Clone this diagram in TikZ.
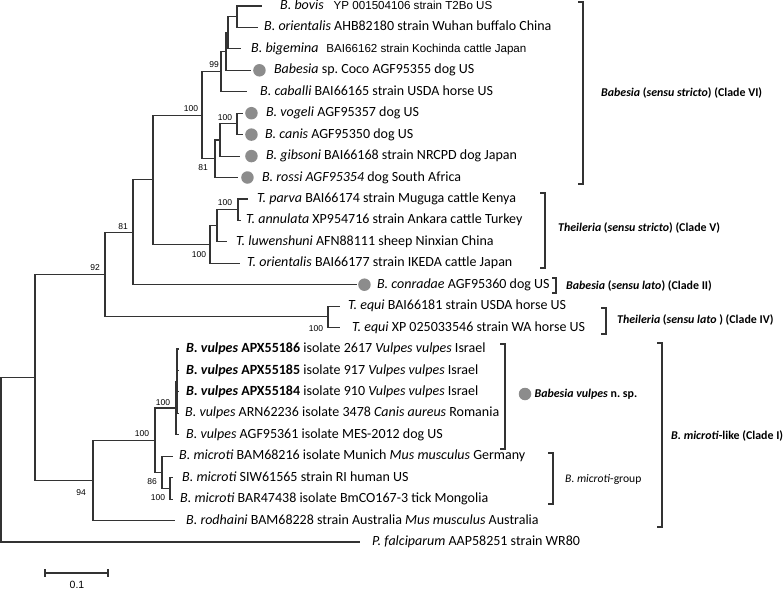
\documentclass[tikz,border=0pt]{standalone}
\usepackage{fontspec}
\setmainfont{Carlito}
\newfontfamily\arialfont{Liberation Sans}
\usepackage{xcolor}
\usepackage{tikz}
\usetikzlibrary{positioning}
\definecolor{spotgray}{RGB}{140,140,140}
\newcommand{\arsmall}[1]{{\arialfont\fontsize{11.6}{13}\selectfont #1}}
\frenchspacing

\begin{document}
\begin{tikzpicture}[
    x=1pt, y=-1pt,
    br/.style={draw=black!80, line width=1.1pt},
    brk/.style={draw=black!80, line width=1.1pt},
    leaf/.style={inner sep=0pt, text height=10pt, text depth=3pt,
                 font=\fontsize{14}{16}\selectfont},
    spot/.style={circle, fill=spotgray, inner sep=0pt, minimum size=12.5pt},
    bs/.style={inner sep=0pt, font=\arialfont\fontsize{8.5}{10}\selectfont},
    clade/.style={anchor=west, inner sep=0pt, font=\bfseries\fontsize{11.9}{14}\selectfont}
]
\useasboundingbox (0,0) rectangle (784,591);

\coordinate (root) at (1,459.8);
\coordinate (ingrp) at (35,377.5);
\coordinate (nPir) at (105,274.6);
\coordinate (nBabThe) at (133,232.3);
\coordinate (nBT) at (153,179.9);
\coordinate (nBss) at (202,115.2);
\coordinate (nBov4) at (221,71.7);
\coordinate (nBov3) at (226,51.5);
\coordinate (nBov2) at (228,32.8);
\coordinate (nBov1) at (237,16.7);
\coordinate (nCan3) at (215,158.8);
\coordinate (nCan2) at (220,140);
\coordinate (nCan1) at (237,123.9);
\coordinate (nThe3) at (210,244.5);
\coordinate (nThe2) at (217,225.8);
\coordinate (nThe1) at (238,209.7);
\coordinate (nEqui) at (328,316.9);
\coordinate (nMic) at (93,480.4);
\coordinate (nVM) at (155,440.2);
\coordinate (nVul) at (176,408);
\coordinate (nVul1) at (177,381.2);
\coordinate (nMicr) at (162,472.3);
\coordinate (nMicr1) at (170,488.4);

\coordinate (tBovis) at (262,6);
\coordinate (tOrient) at (258,27.4);
\coordinate (tBigem) at (241,48.9);
\coordinate (tCoco) at (251,70.3);
\coordinate (tCaballi) at (247,91.8);
\coordinate (tVogeli) at (243,113.2);
\coordinate (tCanis) at (243,134.6);
\coordinate (tGibsoni) at (240,156.1);
\coordinate (tRossi) at (238,177.5);
\coordinate (tParva) at (248,199);
\coordinate (tAnnul) at (241,220.4);
\coordinate (tLuwen) at (227,241.8);
\coordinate (tTori) at (240,263.3);
\coordinate (tConrad) at (357,284.7);
\coordinate (tEquiA) at (340,306.2);
\coordinate (tEquiB) at (340,327.6);
\coordinate (tVulA) at (179,349);
\coordinate (tVulB) at (179,370.5);
\coordinate (tVulC) at (179,391.9);
\coordinate (tVulD) at (179,413.4);
\coordinate (tVulE) at (179,434.8);
\coordinate (tMicA) at (173,456.2);
\coordinate (tMicB) at (173,477.7);
\coordinate (tMicC) at (173,499.1);
\coordinate (tRodh) at (175,520.6);
\coordinate (tFalc) at (360,542);

\node[leaf, right=18pt of tBovis] (bovis) {\textit{B. bovis}\hspace{10pt}\arsmall{YP 001504106 strain T2Bo US}};
\node[leaf, right=6pt of tOrient] (orient) {\textit{B. orientalis} AHB82180 strain Wuhan buffalo China};
\node[leaf, right=10pt of tBigem] (bigem) {\textit{B. bigemina}\hspace{8pt}\arsmall{BAI66162 strain Kochinda cattle Japan}};
\node[spot, right=2pt of tCoco] (dCoco) {};
\node[leaf, right=8pt of dCoco] (coco) {\textit{Babesia} sp. Coco AGF95355 dog US};
\node[leaf, right=13pt of tCaballi] (caballi) {\textit{B. caballi} BAI66165 strain USDA horse US};
\node[spot, right=2pt of tVogeli] (dVogeli) {};
\node[leaf, right=8pt of dVogeli] (vogeli) {\textit{B. vogeli} AGF95357 dog US};
\node[spot, right=2pt of tCanis] (dCanis) {};
\node[leaf, right=7pt of dCanis] (canis) {\textit{B. canis} AGF95350 dog US};
\node[spot, right=5pt of tGibsoni] (dGibsoni) {};
\node[leaf, right=8pt of dGibsoni] (gibsoni) {\textit{B. gibsoni} BAI66168 strain NRCPD dog Japan};
\node[spot, right=3pt of tRossi] (dRossi) {};
\node[leaf, right=8pt of dRossi] (rossi) {\textit{B. rossi AGF95354} dog South Africa};
\node[leaf, right=9pt of tParva] (parva) {\textit{T. parva} BAI66174 strain Muguga cattle Kenya};
\node[leaf, right=5pt of tAnnul] (annul) {\textit{T. annulata} XP954716 strain Ankara cattle Turkey};
\node[leaf, right=9pt of tLuwen] (luwen) {\textit{T. luwenshuni} AFN88111 sheep Ninxian China};
\node[leaf, right=7pt of tTori] (tori) {\textit{T. orientalis} BAI66177 strain IKEDA cattle Japan};
\node[spot, right=1pt of tConrad] (dConrad) {};
\node[leaf, right=6pt of dConrad] (conrad) {\textit{B. conradae} AGF95360 dog US};
\node[leaf, right=8pt of tEquiA] (equiA) {\textit{T. equi} BAI66181 strain USDA horse US};
\node[leaf, right=12pt of tEquiB] (equiB) {\textit{T. equi} XP 025033546 strain WA horse US};
\node[leaf, right=7pt of tVulA] (vulA) {\textbf{\textit{B. vulpes} APX55186} isolate 2617 \textit{Vulpes vulpes} Israel};
\node[leaf, right=7pt of tVulB] (vulB) {\textbf{\textit{B. vulpes} APX55185} isolate 917 \textit{Vulpes vulpes} Israel};
\node[leaf, right=7pt of tVulC] (vulC) {\textbf{\textit{B. vulpes} APX55184} isolate 910 \textit{Vulpes vulpes} Israel};
\node[leaf, right=6pt of tVulD] (vulD) {\textit{B. vulpes} ARN62236 isolate 3478 \textit{Canis aureus} Romania};
\node[leaf, right=7pt of tVulE] (vulE) {\textit{B. vulpes} AGF95361 isolate MES-2012 dog US};
\node[leaf, right=6pt of tMicA] (micA) {\textit{B. microti} BAM68216 isolate Munich \textit{Mus musculus} Germany};
\node[leaf, right=9pt of tMicB] (micB) {\textit{B. microti} SIW61565 strain RI human US};
\node[leaf, right=7pt of tMicC] (micC) {\textit{B. microti} BAR47438 isolate BmCO167-3 tick Mongolia};
\node[leaf, right=11pt of tRodh] (rodh) {\textit{B. rodhaini} BAM68228 strain Australia \textit{Mus musculus} Australia};
\node[leaf, right=12pt of tFalc] (falc) {\textit{P. falciparum} AAP58251 strain WR80};

\draw[br] (root) |- (ingrp);
\draw[br] (root) |- (tFalc);
\draw[br] (ingrp) |- (nPir);
\draw[br] (ingrp) |- (nMic);
\draw[br] (nPir) |- (nBabThe);
\draw[br] (nPir) |- (nEqui);
\draw[br] (nBabThe) |- (nBT);
\draw[br] (nBabThe) |- (tConrad);
\draw[br] (nBT) |- (nBss);
\draw[br] (nBT) |- (nThe3);
\draw[br] (nBss) |- (nBov4);
\draw[br] (nBss) |- (nCan3);
\draw[br] (nBov4) |- (nBov3);
\draw[br] (nBov4) |- (tCaballi);
\draw[br] (nBov3) |- (nBov2);
\draw[br] (nBov3) |- (tCoco);
\draw[br] (nBov2) |- (nBov1);
\draw[br] (nBov2) |- (tBigem);
\draw[br] (nBov1) |- (tBovis);
\draw[br] (nBov1) |- (tOrient);
\draw[br] (nCan3) |- (nCan2);
\draw[br] (nCan3) |- (tRossi);
\draw[br] (nCan2) |- (nCan1);
\draw[br] (nCan2) |- (tGibsoni);
\draw[br] (nCan1) |- (tVogeli);
\draw[br] (nCan1) |- (tCanis);
\draw[br] (nThe3) |- (nThe2);
\draw[br] (nThe3) |- (tTori);
\draw[br] (nThe2) |- (nThe1);
\draw[br] (nThe2) |- (tLuwen);
\draw[br] (nThe1) |- (tParva);
\draw[br] (nThe1) |- (tAnnul);
\draw[br] (nEqui) |- (tEquiA);
\draw[br] (nEqui) |- (tEquiB);
\draw[br] (nMic) |- (nVM);
\draw[br] (nMic) |- (tRodh);
\draw[br] (nVM) |- (nVul);
\draw[br] (nVM) |- (nMicr);
\draw[br] (nVul) |- (nVul1);
\draw[br] (nVul) |- (tVulE);
\draw[br] (nVul1) |- (tVulA);
\draw[br] (nVul1) |- (tVulB);
\draw[br] (nVul1) |- (tVulC);
\draw[br] (nVul1) |- (tVulD);
\draw[br] (nMicr) |- (tMicA);
\draw[br] (nMicr) |- (nMicr1);
\draw[br] (nMicr1) |- (tMicB);
\draw[br] (nMicr1) |- (tMicC);

\node[bs] (bsBov4) at (214,65) {99};
\node[bs] (bsBss) at (191,109) {100};
\node[bs] (bsCan1) at (225,118) {100};
\node[bs] (bsCan3) at (203,168) {81};
\node[bs] (bsThe1) at (225,203) {100};
\node[bs] (bsThe3) at (199,255) {100};
\node[bs] (bsBabThe) at (123,227) {81};
\node[bs] (bsPir) at (95,268) {92};
\node[bs] (bsEqui) at (316,329) {100};
\node[bs] (bsVul) at (163,403) {100};
\node[bs] (bsVM) at (142,434) {100};
\node[bs] (bsMicr) at (152,482) {86};
\node[bs] (bsMicr1) at (158,498) {100};
\node[bs] (bsMic) at (81,493) {94};

\draw[brk] (578,2) -- (583,2) -- (583,184) -- (578,184);
\node[clade] (cladeVI) at (601,93) {\textit{Babesia} (\textit{sensu stricto}) (Clade VI)};
\draw[brk] (540,193) -- (545,193) -- (545,268) -- (540,268);
\node[clade] (cladeV) at (558,228) {\textit{Theileria} (\textit{sensu stricto}) (Clade V)};
\draw[brk] (552,278) -- (556,278) -- (556,293) -- (552,293);
\node[clade] (cladeII) at (566,286) {\textit{Babesia} (\textit{sensu lato}) (Clade II)};
\draw[brk] (601,308) -- (606,308) -- (606,334) -- (601,334);
\node[clade] (cladeIV) at (617,320) {\textit{Theileria} (\textit{sensu lato} ) (Clade IV)};
\draw[brk] (500,344) -- (505,344) -- (505,449) -- (500,449);
\node[spot] (dVulpes) at (525,394) {};
\node[clade, right=3pt of dVulpes] (vulpesSp) {\textit{Babesia vulpes} n. sp.};
\draw[brk] (548,453) -- (553,453) -- (553,504) -- (548,504);
\node[clade, font=\fontsize{11.6}{14}\selectfont] (micGroup) at (565,479) {\textit{B. microti}-group};
\draw[brk] (657,343) -- (662,343) -- (662,527) -- (657,527);
\node[clade] (cladeI) at (671,436) {\textit{B. microti}-like (Clade I)};

\coordinate (sbL) at (45,573);
\coordinate (sbR) at (108,573);
\draw[br] (sbL) -- (sbR);
\draw[br] ([yshift=4pt]sbL) -- ([yshift=-4pt]sbL);
\draw[br] ([yshift=4pt]sbR) -- ([yshift=-4pt]sbR);
\node[inner sep=0pt, font=\arialfont\fontsize{10.5}{12}\selectfont] (sbText) at (77,585) {0.1};
\end{tikzpicture}
\end{document}
